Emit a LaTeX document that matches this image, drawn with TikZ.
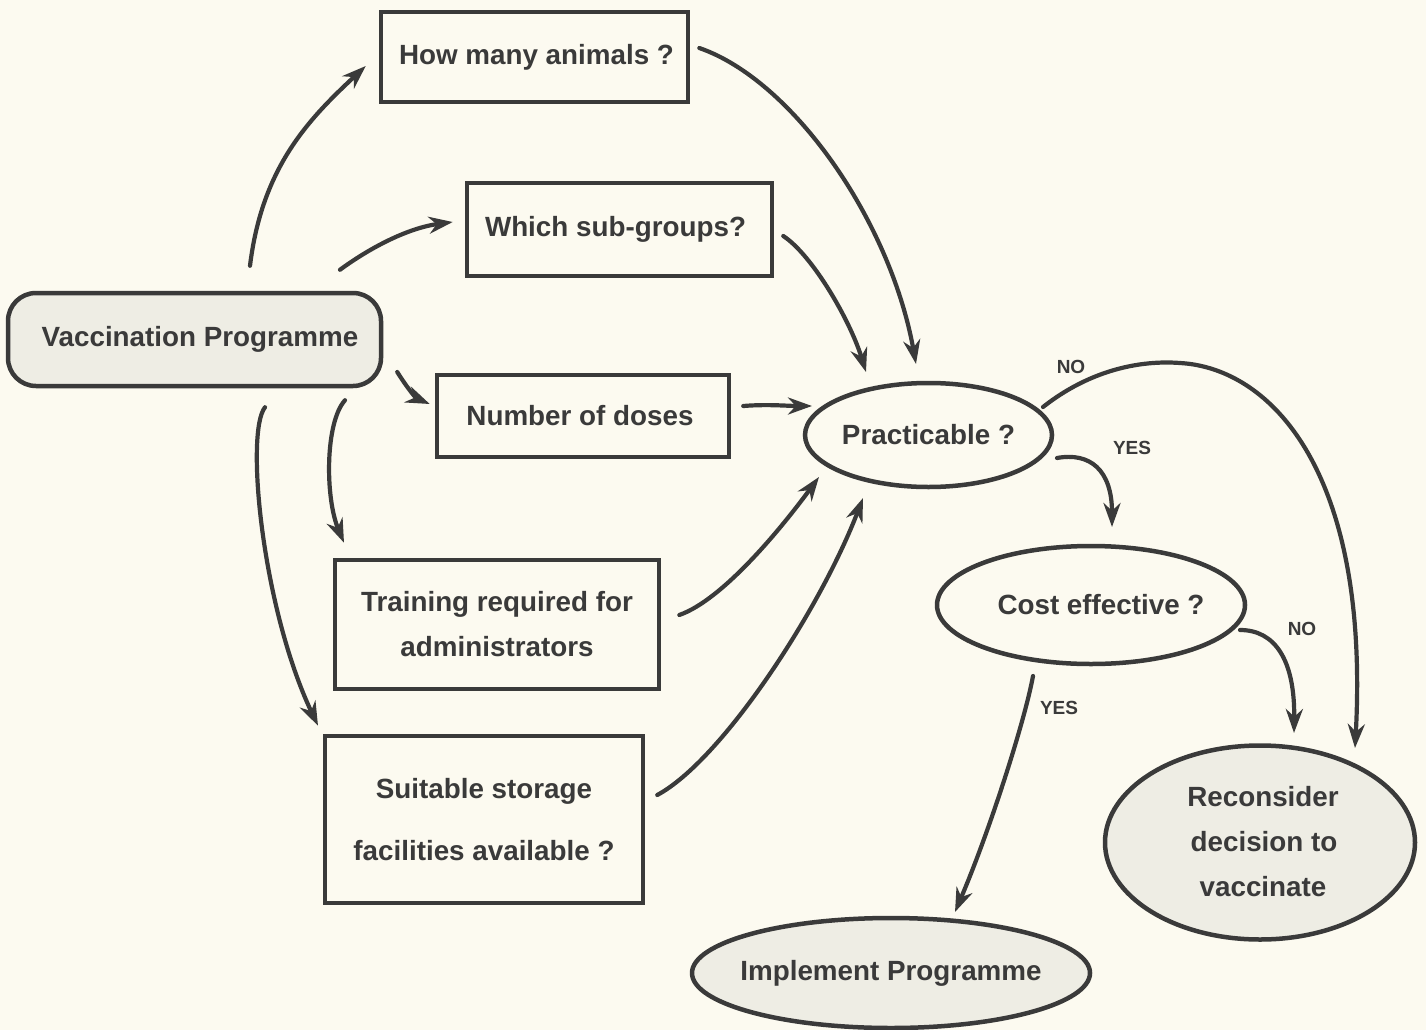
\documentclass[tikz,border=0pt]{standalone}
\usepackage{fontspec}
\setmainfont{Liberation Sans}
\usetikzlibrary{shapes.geometric,arrows.meta,calc}
\definecolor{paper}{RGB}{252,250,240}
\definecolor{ink}{RGB}{58,58,58}
\definecolor{shade}{RGB}{238,237,228}
\newcommand\zw[1]{\makebox[0pt]{#1}}
\begin{document}
\begin{tikzpicture}[x=1pt,y=-1pt,
  every node/.style={text=ink, font=\fontsize{27.8}{45}\selectfont\bfseries},
  box/.style={draw=ink, line width=4.5pt, rectangle, inner sep=0pt, align=center},
  oval/.style={draw=ink, line width=4.5pt, ellipse, inner sep=0pt, align=center},
  shaded/.style={fill=shade},
  arr/.style={draw=ink, line width=4.2pt, line cap=round, -{Stealth[length=24pt,width=17pt]}},
  lab/.style={text=ink, font=\fontsize{19}{20}\selectfont\bfseries}
]
\fill[paper] (0,0) rectangle (1426,1030);
\useasboundingbox (0,0) rectangle (1426,1030);

% nodes
\node[box, shaded, rounded corners=28pt, minimum width=373pt, minimum height=93pt] (vp) at (194.5,339.5) {\hspace*{11pt}Vaccination Programme};
\node[box, minimum width=307pt, minimum height=90pt] (hm) at (534.5,57) {\hspace*{4pt}How many animals ?};
\node[box, minimum width=305pt, minimum height=93pt] (sg) at (619.5,229.5) {Which sub-groups?\hspace*{8pt}};
\node[box, minimum width=292pt, minimum height=82pt] (nd) at (583,416) {Number of doses\hspace*{6pt}};
\node[box, minimum width=324pt, minimum height=129pt] (tr) at (497,624.5) {Training required for\\administrators};
\node[box, minimum width=318pt, minimum height=167pt] (st) at (484,819.5) {Suitable storage\\[17pt]facilities available ?};
\node[oval, minimum width=247pt, minimum height=104pt] (pr) at (928.5,435) {\zw{Practicable ?}};
\node[oval, minimum width=308pt, minimum height=118pt] (ce) at (1091,605) {\zw{\hspace*{20pt}Cost effective ?}};
\node[oval, shaded, minimum width=310pt, minimum height=194pt] (rc) at (1260,842.5) {\zw{\begin{tabular}{@{}c@{}}\hspace*{6pt}Reconsider\\[0pt]\hspace*{8pt}decision to\\[0pt]\hspace*{6pt}vaccinate\end{tabular}}};
\node[oval, shaded, minimum width=398pt, minimum height=110pt] (im) at (891,973) {\zw{Implement Programme}};

% labels
\node[lab] (no1) at (1071,367) {NO};
\node[lab] (yes1) at (1132,448) {YES};
\node[lab] (no2) at (1302,629) {NO};
\node[lab] (yes2) at (1059,708) {YES};

% connectors from Vaccination Programme
\draw[arr] ($(vp.north)+(55.5,-25)$) .. controls +(12,-98) and +(-58,54) .. ($(hm.west)+(-13,9)$);
\draw[arr] ($(vp.north)+(145.5,-21)$) .. controls +(30,-22) and +(-45,6) .. ($(sg.west)+(-12,-7.5)$);
\draw[arr] ($(vp.east)+(14,32.5)$) .. controls +(10,16) and +(-14,-6) .. ($(nd.west)+(-5,-12)$);
\draw[arr] ($(vp.south)+(150.5,12)$) .. controls +(-20,22) and +(-19,-45) .. ($(tr.north)+(-153,-15)$);
\draw[arr] ($(vp.south)+(70.5,19)$) .. controls +(-20,25) and +(-56,-118) .. ($(st.north)+(-166,-8)$);

% connectors into Practicable
\draw[arr] ($(hm.east)+(9,-9)$) .. controls +(93,32) and +(-26,-144) .. ($(pr.center)+(-12.5,-71)$);
\draw[arr] ($(sg.east)+(9,6.5)$) .. controls +(29,19) and +(-16,-52) .. ($(pr.center)+(-62.5,-63)$);
\draw[arr] ($(nd.east)+(12,-10)$) .. controls +(25,-2) and +(-25,0) .. ($(pr.center)+(-116.5,-29)$);
\draw[arr] ($(tr.east)+(18,-9.5)$) .. controls +(43,-15) and +(-39,53) .. ($(pr.center)+(-109.5,42)$);
\draw[arr] ($(st.east)+(12,-24.5)$) .. controls +(65,-35) and +(-43,112) .. ($(pr.center)+(-65.5,63)$);

% decisions
\coordinate (nomid) at (1180,363);
\draw[arr] ($(pr.center)+(114.5,-28)$) .. controls +(47,-37) and +(-40,-3) .. (nomid)
  .. controls +(90,5) and +(15,-278) .. ($(rc.center)+(95,-94.5)$);
\draw[arr] ($(pr.center)+(128.5,23)$) .. controls +(33,-6) and +(0,-57) .. ($(ce.center)+(21,-78)$);
\draw[arr] ($(ce.center)+(149,25)$) .. controls +(35,0) and +(1,-73) .. ($(rc.center)+(34,-109.5)$);
\draw[arr] ($(ce.center)+(-58,71)$) .. controls +(-8,44) and +(35,-82) .. ($(im.center)+(64,-61)$);
\end{tikzpicture}
\end{document}
